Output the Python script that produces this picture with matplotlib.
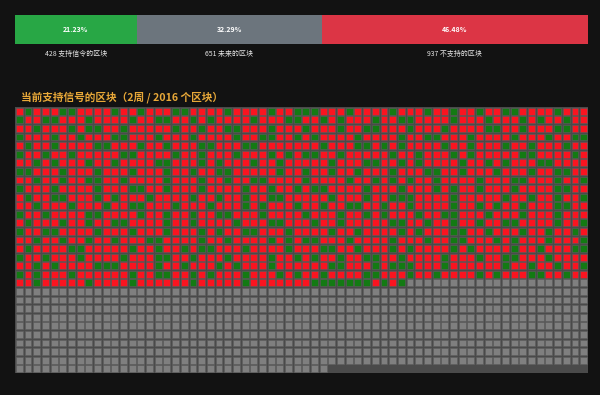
import matplotlib.pyplot as plt
from matplotlib.patches import Rectangle
from matplotlib.collections import PatchCollection

plt.rcParams['font.family'] = ['Noto Sans CJK SC', 'DejaVu Sans']

BG = "#121212"
BAR_COLOURS = ["#28a745", "#6c757d", "#dc3545"]
CELL_COLOURS = {"G": "#137a13", "R": "#fa1420", "F": "#7f7f7f"}

# block counts for the current period
counts = [428, 651, 937]
count_labels = ["支持信令的区块", "未来的区块", "不支持的区块"]
title = "当前支持信号的区块（2周 / 2016 个区块）"
n_cols = 66

# mined blocks so far, one char per block (G = signalling, R = not)
# spaces are only there to make counting easier
mined_rows = [
    "RGRRRGGRRRR GRRGRRRGGRR RRGRRRRGRRG GGRRRGRRRRG RRRGRRGRRGR RGGRRRRGRRR",
    "GRRGGRRRGRR RRGRRGGRRGR GRRRRGRRRGG RRGRGRRRGRR GGRRRRGRRRG RRRGRGRRGRR",
    "RRGRRRGRGGR RGRRRRRGRRG RRGGRRRGRRR GRRRGRRGGRR RGRRRGRRRRG GRRGRRRGGRR",
    "GRRRGRRGRRR GGRRRGRRRGR RRRGRRGGRRG RGRRRRGRRRR GRRGGRRRGRR RRGRRRGRRGG",
    "RGRRGRRRRGG RRRGRRGRRRG GRRRGGRRRRR RRGRRRGGRGR GRRRRGRRGRR RGRRGRRRGRR",
    "GRRGRRGRRRR RGGRRRRGRRG RRRGRRRGRGR GGRRGRRRRRG RRGRRRGRGRR RRRGGRRRRGR",
    "RRGRGRRRGRR GRRRRGGRRRG RGRRRGRRGRR RRRGRRRGGRR GRGRRRRGRRG RGRRRGGRRRR",
    "GGRRRGRRRGR RRGRRRGRRGR RGGRRRRRGRR GRRGRRGRRRG RRRGGRRGRRR GRRRGRRGGRR",
    "RRGRRGRRGGR RGRRRRGRRRG RRGRRGGRRRR GRRRRGRRGRG RGRRGRRRRGR RRGGRRRGRRG",
    "GRRRGRRRRGR RRGGRRGRRRG RRRRGRRGRRG RGGRRRRGRRR GRRRGRGRRGR RRGRRRRGGRR",
    "RGRRGGRRRGR GRRRGRRRRGR RGRRGRRGGRR RRRGRRRGRRG GGRRRRGRRRR RGRRGRRGRRG",
    "RRGRRRGRRRG RRGGRRRGRRR GRRRGRGRRRG RRGRRGGRRGR RGRRRRGRRGR GRRGRRRGGRR",
    "GRRGRRRRGGR RRRGRRGRRGR RGGRRRGRRRR GRRRGRRGRGR RRGRRGGRRRG RRRGRRRGRRR",
    "RGRRRGRRGRR GGRRRRGRRGR RRRGRRRGGRR RGRRGRRRRRG GRRGRRGRRGR RGGRRRRGRRG",
    "GRRGGRRRRGR RRGRRRGRRRG RGRRGGRRRGR RRRGRRGRRRR GRGRRRGGRRG RRRGRRGRRGR",
    "RRGRRGRRGRR GRRRGGRRRRG RRGRRRRGRGR GGRRRGRRRRG RRRGRRGGRRR GRGRRRGRRRG",
    "RGRRRRGGRRR RRGRRGRRGRG GRRRGRRRRGR RRGGRRGRRRG RGRRRRGRGRR RRGRRGRRRGG",
    "GRRGRRRGRRR RGRRRGGRRGR RRGRRRRGRRG RGRRGRRGGRR GRRRRGRRRGR RGGRRRGRRRR",
    "RRGRGRRRRGG GRRRRGRRGRR RGRGRRRGRRR RRRGGRRRGRG GGRRRGRRRRR RGRRGRRGRRG",
    "GRGRRRGRRRR RRGRRGGRRGR GRRRGRRRGRG RRGRRRRGGRR RGRRGRRRRGR GRRRGGRRGRR",
    "RRGRRRRRGRR RRGRRRRRRGR RRRRGRRRRRR RGGGGGGGRGRG",
]

total = sum(counts)
blocks = "".join(mined_rows).replace(" ", "")
blocks = blocks + "F" * (total - len(blocks))

fig = plt.figure(figsize=(6, 3.95), dpi=100, facecolor=BG)

# progress bar at the top
bar_ax = fig.add_axes([15 / 600, 1 - 44 / 395, 573 / 600, 29 / 395])
bar_ax.set_facecolor(BG)
left = 0
for i in range(len(counts)):
    bar_ax.barh(0, counts[i], left=left, height=1, color=BAR_COLOURS[i])
    mid = left + counts[i] / 2
    bar_ax.text(mid, 0, f"{counts[i] / total * 100:.2f}%", ha="center",
                va="center", color="white", fontsize=5, fontweight="bold")
    fig.text((15 + 573 * mid / total) / 600, 1 - 54 / 395,
             f"{counts[i]} {count_labels[i]}", ha="center", va="center",
             color="#e6e6e6", fontsize=5)
    left += counts[i]
bar_ax.set_xlim(0, total)
bar_ax.set_ylim(-0.5, 0.5)
bar_ax.axis("off")

fig.text(21 / 600, 1 - 97 / 395, title, ha="left", va="center",
         color="#e8a838", fontsize=7.7, fontweight="bold")

# block grid
grid_ax = fig.add_axes([15 / 600, 1 - 373 / 395, 573 / 600, 266 / 395])
n_rows = -(-total // n_cols)
grid_ax.set_xlim(0, n_cols)
grid_ax.set_ylim(n_rows, 0)
grid_ax.axis("off")
grid_ax.add_patch(Rectangle((0, 0), n_cols, n_rows, facecolor="#4a4a4a",
                            edgecolor="none"))

cells = []
face = []
for k, b in enumerate(blocks):
    r, c = divmod(k, n_cols)
    cells.append(Rectangle((c + 0.1, r + 0.1), 0.8, 0.8))
    face.append(CELL_COLOURS[b])
grid_ax.add_collection(PatchCollection(cells, facecolor=face,
                                       edgecolor="#5e5e5e", linewidth=0.4))

fig.savefig("out.png", dpi=100, facecolor=BG)
